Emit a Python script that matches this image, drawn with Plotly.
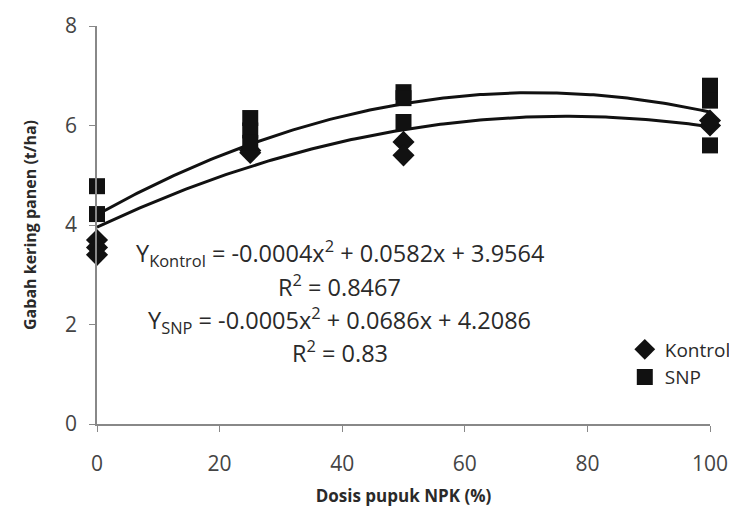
import numpy as np
import plotly.graph_objects as go

dose_kontrol = [0, 0, 0, 25, 25, 50, 50, 100, 100]
yield_kontrol = [3.7, 3.55, 3.4, 5.5, 5.45, 5.67, 5.4, 6.0, 6.1]
dose_snp = [0, 0, 25, 25, 25, 50, 50, 50, 100, 100, 100]
yield_snp = [4.78, 4.22, 6.15, 5.9, 5.65, 6.67, 6.55, 6.07, 6.8, 6.5, 5.6]

# Quadratic trendline coefficients (a, b, c)
coef_kontrol = [-0.00038, 0.0582, 3.9564]
coef_snp = [-0.00048, 0.0686, 4.2086]

eq_lines = [
    "Y<sub>Kontrol</sub> = -0.0004x<sup>2</sup> + 0.0582x + 3.9564",
    "R<sup>2</sup> = 0.8467",
    "Y<sub>SNP</sub> = -0.0005x<sup>2</sup> + 0.0686x + 4.2086",
    "R<sup>2</sup> = 0.83",
]
eq_y = [3.44, 2.79, 2.09, 1.45]

x_ticks = [0, 20, 40, 60, 80, 100]
y_ticks = [0, 2, 4, 6, 8]

xs = np.linspace(0, 100, 201)
fk = np.polyval(coef_kontrol, xs)
fs = np.polyval(coef_snp, xs)

fig = go.Figure()
fig.add_trace(go.Scatter(x=xs, y=fs, mode="lines", line=dict(color="#111", width=3),
                         showlegend=False, hoverinfo="skip", cliponaxis=False))
fig.add_trace(go.Scatter(x=xs, y=fk, mode="lines", line=dict(color="#111", width=3),
                         showlegend=False, hoverinfo="skip", cliponaxis=False))
fig.add_trace(go.Scatter(x=dose_kontrol, y=yield_kontrol, mode="markers", name="Kontrol",
                         marker=dict(symbol="diamond", size=17, color="#111"), cliponaxis=False))
fig.add_trace(go.Scatter(x=dose_snp, y=yield_snp, mode="markers", name="SNP",
                         marker=dict(symbol="square", size=16, color="#111"), cliponaxis=False))

font_family = "Open Sans, Liberation Sans, sans-serif"
for t, yy in zip(eq_lines, eq_y):
    fig.add_annotation(x=39.6, y=yy, xref="x", yref="y", text=t, showarrow=False,
                       font=dict(size=23.5, color="#2a2a2a", family=font_family),
                       xanchor="center", yanchor="middle")

fig.update_layout(
    width=721, height=506,
    margin=dict(l=89, r=19, t=18, b=90, autoexpand=False),
    paper_bgcolor="white", plot_bgcolor="white",
    font=dict(family=font_family, color="#333"),
    legend=dict(x=0.861, y=0.235, xanchor="left", yanchor="top",
                font=dict(size=19, color="#2a2a2a"), bgcolor="rgba(0,0,0,0)",
                tracegroupgap=0, itemwidth=30),
)
fig.update_xaxes(range=[0, 100], tickvals=x_ticks, ticks="outside", ticklen=6,
                 tickcolor="#888", showline=True, linecolor="#888", linewidth=1.5,
                 showgrid=False, zeroline=False, tickfont=dict(size=21, color="#444"),
                 ticklabelstandoff=14, automargin=False,
                 title=dict(text="<b>Dosis pupuk NPK (%)</b>", font=dict(size=17, color="#2a2a2a"),
                            standoff=14))
fig.update_yaxes(range=[0, 8], tickvals=y_ticks, ticks="outside", ticklen=6,
                 tickcolor="#888", showline=True, linecolor="#888", linewidth=1.5,
                 showgrid=False, zeroline=False, tickfont=dict(size=21, color="#444"),
                 ticklabelstandoff=8, automargin=False,
                 title=dict(text="<b>Gabah kering panen (t/ha)</b>", font=dict(size=16, color="#2a2a2a"),
                            standoff=24))

fig.write_html("out.html")
